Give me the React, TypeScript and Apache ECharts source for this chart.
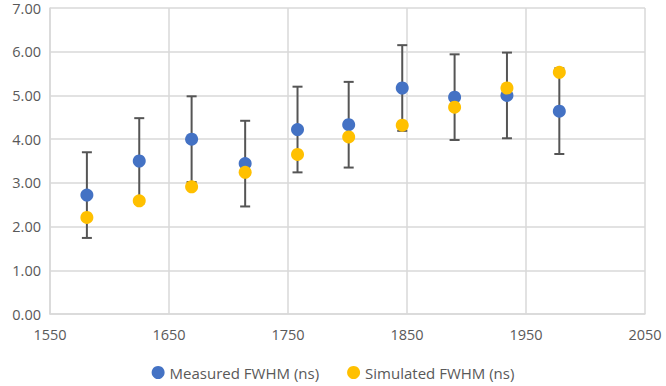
import React, { useEffect, useRef } from "react";
import * as echarts from "echarts";

const wavelengths = [1581, 1625, 1669, 1714, 1758, 1801, 1846, 1890, 1934, 1978];
const measured = [2.72, 3.5, 4.0, 3.44, 4.22, 4.33, 5.17, 4.96, 5.0, 4.64];
const simulated = [2.21, 2.59, 2.91, 3.24, 3.65, 4.05, 4.32, 4.73, 5.17, 5.53];
const errors = [0.98, 0.98, 0.98, 0.98, 0.98, 0.98, 0.98, 0.98, 0.98, 0.98];
const seriesNames = ["Measured FWHM (ns)", "Simulated FWHM (ns)"];

export default function App() {
  const ref = useRef<HTMLDivElement>(null);
  useEffect(() => {
    document.body.style.margin = "0";
    const chart = echarts.init(ref.current!, null, { renderer: "svg" });
    const font = "Open Sans";
    const errData = wavelengths.map((x, i) => [x, measured[i] - errors[i], measured[i] + errors[i]]);
    chart.setOption({
      animation: false,
      textStyle: { fontFamily: font },
      grid: { left: 50, right: 21, top: 8, bottom: 72, containLabel: false },
      xAxis: {
        type: "value",
        min: 1550,
        max: 2050,
        interval: 100,
        axisLine: { show: true, lineStyle: { color: "#d9d9d9", width: 1.5 } },
        axisTick: { show: false },
        splitLine: { show: true, lineStyle: { color: "#d9d9d9", width: 1.5 } },
        axisLabel: {
          color: "#595959",
          fontSize: 14.5,
          margin: 13,
          fontFamily: font,
          formatter: (v: number) => String(v),
        },
      },
      yAxis: {
        type: "value",
        min: 0,
        max: 7,
        interval: 1,
        axisLine: { show: true, lineStyle: { color: "#d9d9d9", width: 1.5 } },
        axisTick: { show: false },
        splitLine: { show: true, lineStyle: { color: "#d9d9d9", width: 1.5 } },
        axisLabel: {
          color: "#595959",
          fontSize: 14.5,
          margin: 9,
          fontFamily: font,
          formatter: (v: number) => v.toFixed(2),
        },
      },
      legend: {
        bottom: 1,
        left: "center",
        icon: "circle",
        itemWidth: 13,
        itemHeight: 13,
        itemGap: 28,
        textStyle: { color: "#595959", fontSize: 15, fontFamily: font },
        data: seriesNames,
      },
      series: [
        {
          type: "custom",
          name: "err",
          data: errData,
          z: 1,
          renderItem: (params: any, api: any) => {
            const x = api.value(0);
            const lo = api.coord([x, api.value(1)]);
            const hi = api.coord([x, api.value(2)]);
            const hw = 5;
            const st = { stroke: "#555555", lineWidth: 2 };
            return {
              type: "group",
              children: [
                { type: "line", shape: { x1: lo[0], y1: lo[1], x2: hi[0], y2: hi[1] }, style: st },
                { type: "line", shape: { x1: lo[0] - hw, y1: lo[1], x2: lo[0] + hw, y2: lo[1] }, style: st },
                { type: "line", shape: { x1: hi[0] - hw, y1: hi[1], x2: hi[0] + hw, y2: hi[1] }, style: st },
              ],
            };
          },
        },
        {
          type: "scatter",
          name: seriesNames[0],
          symbol: "circle",
          symbolSize: 13,
          itemStyle: { color: "#4472C4", opacity: 1 },
          z: 2,
          data: wavelengths.map((x, i) => [x, measured[i]]),
        },
        {
          type: "scatter",
          name: seriesNames[1],
          symbol: "circle",
          symbolSize: 13,
          itemStyle: { color: "#FFC000", opacity: 1 },
          z: 3,
          data: wavelengths.map((x, i) => [x, simulated[i]]),
        },
      ],
    });
    return () => chart.dispose();
  }, []);
  return <div ref={ref} style={{ width: 666, height: 386 }} />;
}
